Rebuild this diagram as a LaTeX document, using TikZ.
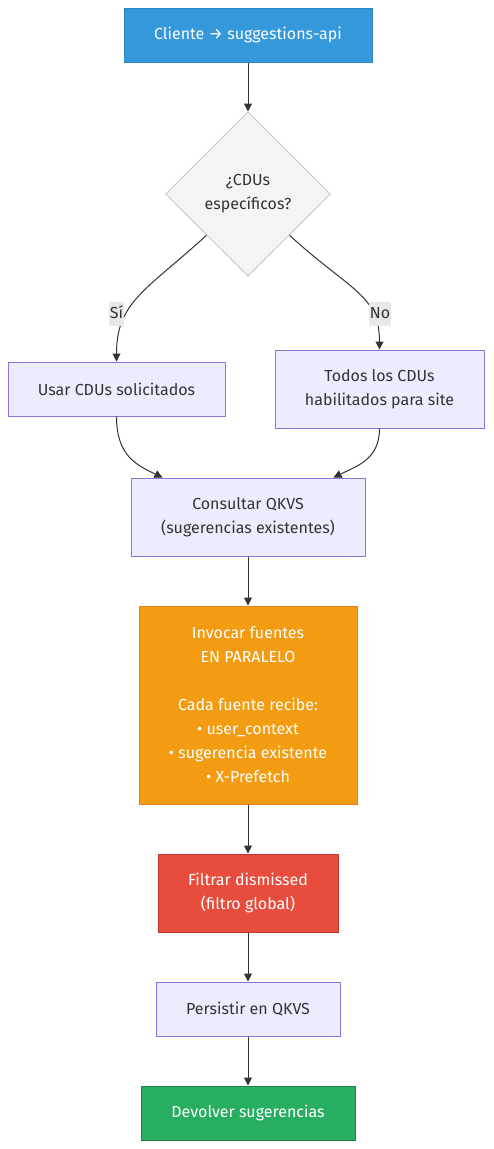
\documentclass[tikz,border=0pt]{standalone}
\usepackage{fontspec}
\setmainfont{Fira Sans}
\usetikzlibrary{shapes.geometric,arrows.meta,calc}
\definecolor{txt}{HTML}{333333}
\definecolor{lav}{HTML}{ECECFF}
\definecolor{lavs}{HTML}{9370DB}
\definecolor{blu}{HTML}{3498DB}
\definecolor{blus}{HTML}{2E86C1}
\definecolor{ora}{HTML}{F39C12}
\definecolor{oras}{HTML}{E67E22}
\definecolor{redd}{HTML}{E74C3C}
\definecolor{reds}{HTML}{C0392B}
\definecolor{grn}{HTML}{27AE60}
\definecolor{grns}{HTML}{1E8449}
\definecolor{dia}{HTML}{F4F4F4}
\definecolor{dias}{HTML}{CCCCCC}
\definecolor{lbl}{HTML}{E8E8E8}
\begin{document}
\begin{tikzpicture}[x=1pt,y=-1pt,
  base/.style={draw,line width=1pt,rectangle,inner sep=0pt,align=center,
    font=\fontsize{16}{24}\selectfont,text=txt},
  lavbox/.style={base,fill=lav,draw=lavs},
  blubox/.style={base,fill=blu,draw=blus,text=white},
  orabox/.style={base,fill=ora,draw=oras,text=white},
  redbox/.style={base,fill=redd,draw=reds,text=white},
  grnbox/.style={base,fill=grn,draw=grns,text=white},
  decision/.style={diamond,draw=dias,fill=dia,line width=1pt,inner sep=0pt,
    minimum width=165pt,minimum height=164pt,align=center,
    font=\fontsize{16}{24}\selectfont,text=txt},
  elabel/.style={fill=lbl,inner xsep=1pt,inner ysep=0pt,text=txt,font=\fontsize{16}{24}\selectfont,
    text height=16pt,text depth=8pt},
  arr/.style={draw=txt,line width=1pt,-{Triangle[length=8pt,width=8pt]}}
]
\useasboundingbox (0,0) rectangle (493,1149);
\fill[white] (0,0) rectangle (493,1149);

\node[blubox,minimum width=248pt,minimum height=54pt] (b1) at (248,35) {Cliente → suggestions-api};
\node[decision] (d) at (248,194) {¿CDUs\\específicos?};
\node[lavbox,minimum width=217pt,minimum height=54pt] (usar) at (116.5,389) {Usar CDUs solicitados};
\node[lavbox,minimum width=209pt,minimum height=78pt] (todos) at (379.5,389) {Todos los CDUs\\habilitados para site};
\node[lavbox,minimum width=234pt,minimum height=78pt] (cons) at (248,517) {Consultar QKVS\\(sugerencias existentes)};
\node[orabox,minimum width=218pt,minimum height=198pt] (inv) at (248,705) {Invocar fuentes\\EN PARALELO\\[24pt]Cada fuente recibe:\\• user\_context\\• sugerencia existente\\• X-Prefetch};
\node[redbox,minimum width=180pt,minimum height=78pt] (filt) at (248,893) {Filtrar dismissed\\(filtro global)};
\node[lavbox,minimum width=184pt,minimum height=54pt] (pers) at (248,1009) {Persistir en QKVS};
\node[grnbox,minimum width=214pt,minimum height=54pt] (dev) at (248,1113) {Devolver sugerencias};

\coordinate (dl) at ($(d.west)!0.5!(d.south)$);
\coordinate (dr) at ($(d.east)!0.5!(d.south)$);

\draw[arr] (b1.south) -- (d.north);
\draw[arr] (dl) .. controls +(-60,55) and +(0,-60) .. (usar.north);
\draw[arr] (dr) .. controls +(60,55) and +(0,-55) .. (todos.north);
\node[elabel] (lsi) at (116.5,314) {Sí};
\node[elabel] (lno) at (380,314) {No};
\draw[arr] (usar.south) .. controls +(0,40) and +(-25,-12) .. ($(cons.north west)+(32,0)$);
\draw[arr] (todos.south) .. controls +(0,30) and +(25,-12) .. ($(cons.north east)+(-32,0)$);
\draw[arr] (cons.south) -- (inv.north);
\draw[arr] (inv.south) -- (filt.north);
\draw[arr] (filt.south) -- (pers.north);
\draw[arr] (pers.south) -- (dev.north);
\end{tikzpicture}
\end{document}
